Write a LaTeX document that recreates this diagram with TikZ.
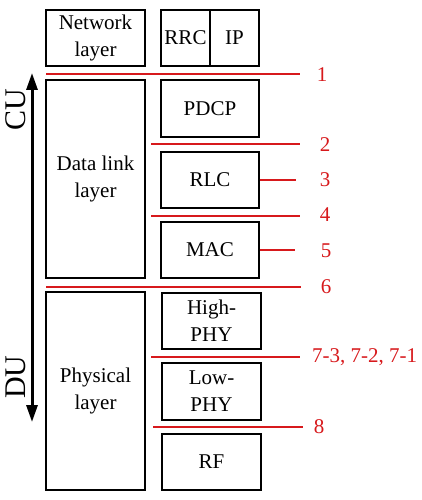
\documentclass[tikz,border=0pt]{standalone}
\usepackage{fontspec}
\setmainfont{Liberation Serif}
\usetikzlibrary{arrows.meta}
\definecolor{cutred}{RGB}{215,25,28}
\begin{document}
\begin{tikzpicture}[x=1pt,y=-1pt,
  box/.style={draw=black,line width=1.3pt,inner sep=0pt,align=center,
    font=\fontsize{21}{27}\selectfont},
  cut/.style={draw=cutred,line width=2pt},
  cutlab/.style={text=cutred,inner sep=0pt,font=\fontsize{21}{25}\selectfont},
  side/.style={inner sep=0pt,font=\fontsize{30}{34}\selectfont}]
\useasboundingbox (0,0) rectangle (421,500);
% left column
\node[box,minimum width=99pt,minimum height=56pt] (net) at (95.5,38) {Network\\layer};
\node[box,minimum width=99pt,minimum height=198pt] (dll) at (95.5,179) {Data link\\layer};
\node[box,minimum width=99pt,minimum height=198pt] (phy) at (95.5,391) {Physical\\layer};
% right column
\node[box,minimum width=49pt,minimum height=56pt] (rrc) at (185.5,38) {RRC};
\node[box,minimum width=49pt,minimum height=56pt] (ip) at (234.5,38) {IP};
\node[box,minimum width=98pt,minimum height=57pt] (pdcp) at (210,108.5) {PDCP};
\node[box,minimum width=98pt,minimum height=56pt] (rlc) at (210,180) {RLC};
\node[box,minimum width=98pt,minimum height=56pt] (mac) at (210,250) {MAC};
\node[box,minimum width=99pt,minimum height=56pt] (hphy) at (211.5,321) {High-\\PHY};
\node[box,minimum width=99pt,minimum height=57pt] (lphy) at (211.5,391.5) {Low-\\PHY};
\node[box,minimum width=99pt,minimum height=56pt] (rf) at (211.5,462) {RF};
% split labels
\node[cutlab] (l1) at (322,75) {1};
\node[cutlab] (l2) at (325,145) {2};
\node[cutlab] (l3) at (325,180) {3};
\node[cutlab] (l4) at (325,215) {4};
\node[cutlab] (l5) at (326,251) {5};
\node[cutlab] (l6) at (326,287) {6};
\node[cutlab,anchor=west] (l7) at (312,357) {7-3, 7-2, 7-1};
\node[cutlab] (l8) at (319,427) {8};
% split line ends
\coordinate (s1) at (46,74.5);  \coordinate (e1) at (300,74.5);
\coordinate (s2) at (151,144);  \coordinate (e2) at (300,144);
\coordinate (e3) at (296,180);
\coordinate (s4) at (151,215.5);\coordinate (e4) at (300,215.5);
\coordinate (e5) at (295,250);
\coordinate (s6) at (46,286.5); \coordinate (e6) at (301,286.5);
\coordinate (s7) at (151,357);  \coordinate (e7) at (300,357);
\coordinate (s8) at (153,427);  \coordinate (e8) at (303,427);
\draw[cut] (s1) -- (e1);
\draw[cut] (s2) -- (e2);
\draw[cut] (rlc.east) -- (e3);
\draw[cut] (s4) -- (e4);
\draw[cut] (mac.east) -- (e5);
\draw[cut] (s6) -- (e6);
\draw[cut] (s7) -- (e7);
\draw[cut] (s8) -- (e8);
% CU / DU arrow
\coordinate (atop) at (32,73);
\coordinate (abot) at (32,422);
\draw[line width=3pt,{Triangle[length=17pt,width=11pt]}-{Triangle[length=17pt,width=11pt]}] (atop) -- (abot);
\node[side,rotate=90] (cu) at (16,110) {CU};
\node[side,rotate=90] (du) at (16,377) {DU};
\end{tikzpicture}
\end{document}
